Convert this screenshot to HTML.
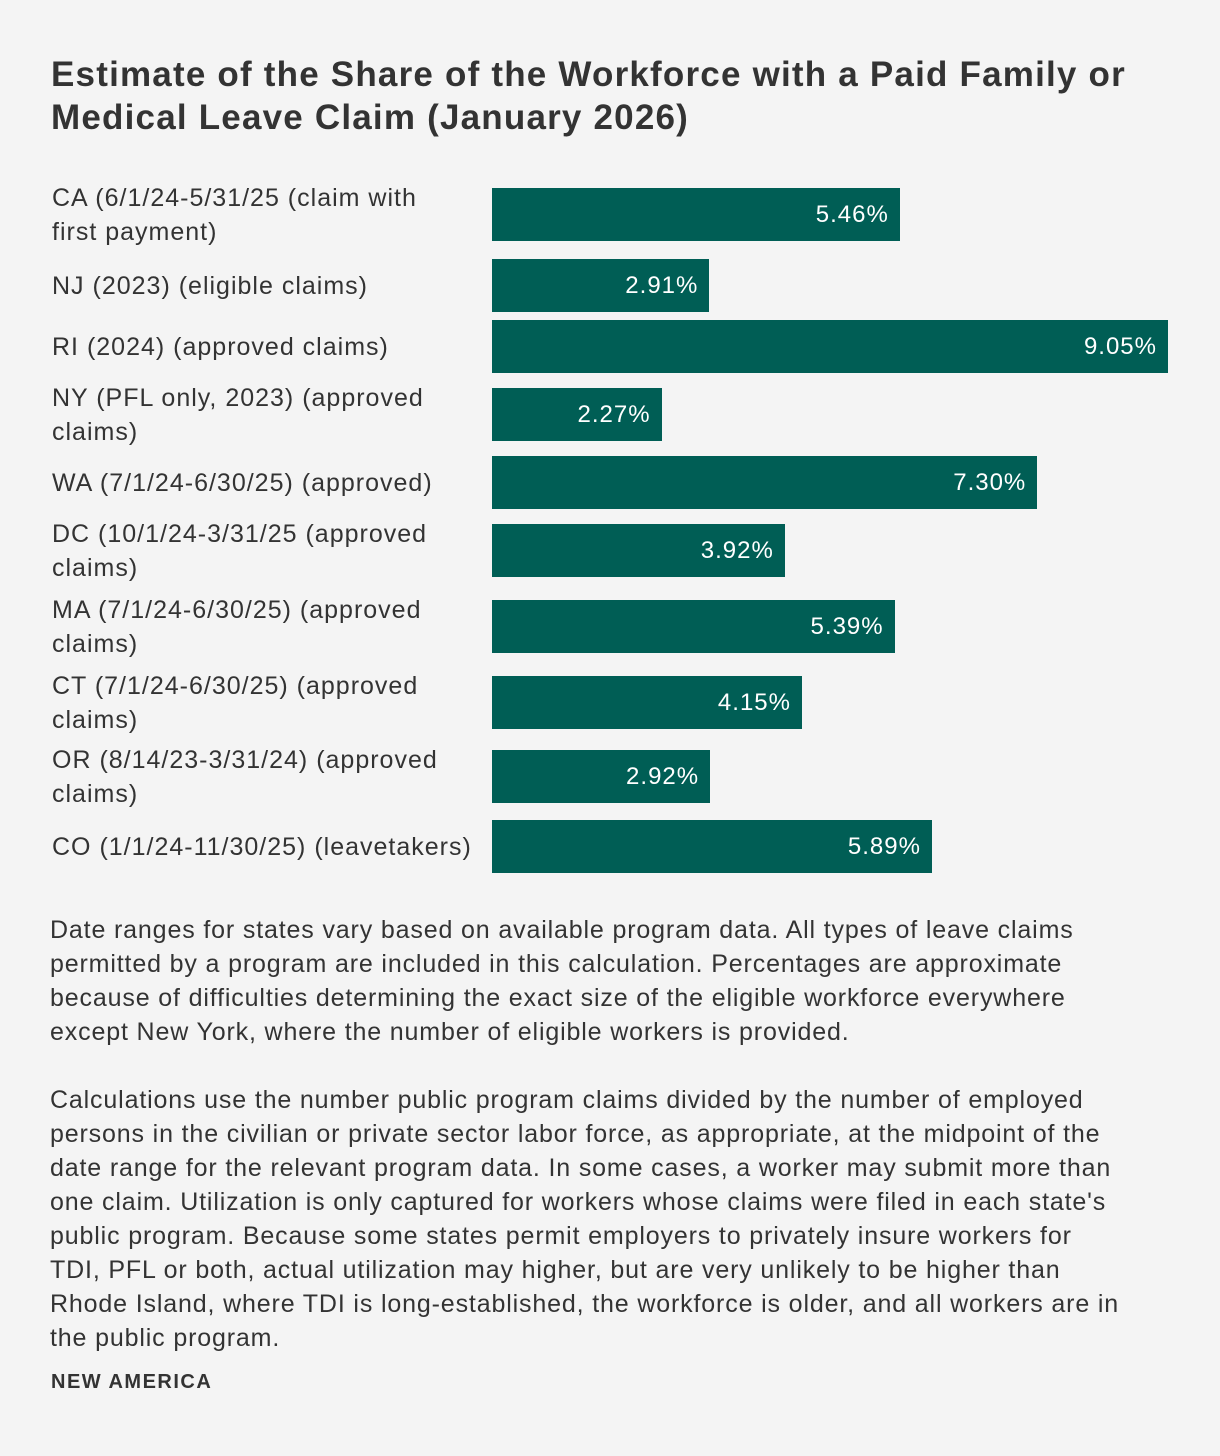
<!DOCTYPE html>
<html><head><meta charset="utf-8"><style>
body{margin:0;background:#f4f4f4;font-family:"Liberation Sans",sans-serif;color:#2b2b2b;}
#root{position:relative;width:1220px;height:1456px;overflow:hidden;}
.title{position:absolute;left:51px;top:53px;font-size:35px;letter-spacing:1.2px;font-weight:bold;line-height:43px;color:#333;white-space:nowrap;}
.lbl{position:absolute;left:52px;font-size:25px;letter-spacing:1px;line-height:34px;white-space:nowrap;transform:translateY(-50%);color:#333;}
.bar{position:absolute;left:492px;height:53px;background:#005e55;}
.val{position:absolute;right:11px;top:0;line-height:53px;color:#fff;font-size:24px;letter-spacing:1px;}
.note{position:absolute;left:50px;font-size:25px;letter-spacing:0.85px;line-height:34px;white-space:nowrap;color:#333;}
.brand{position:absolute;left:51px;top:1371px;font-size:20px;letter-spacing:1.5px;font-weight:bold;color:#333;}
</style></head><body>
<div id="root">
<div class="title">Estimate of the Share of the Workforce with a Paid Family or<br>Medical Leave Claim (January 2026)</div>
<div id="plot"></div>
<div class="note" style="top:913px">Date ranges for states vary based on available program data. All types of leave claims<br>permitted by a program are included in this calculation. Percentages are approximate<br>because of difficulties determining the exact size of the eligible workforce everywhere<br>except New York, where the number of eligible workers is provided.</div>
<div class="note" style="top:1083px">Calculations use the number public program claims divided by the number of employed<br>persons in the civilian or private sector labor force, as appropriate, at the midpoint of the<br>date range for the relevant program data. In some cases, a worker may submit more than<br>one claim. Utilization is only captured for workers whose claims were filed in each state's<br>public program. Because some states permit employers to privately insure workers for<br>TDI, PFL or both, actual utilization may higher, but are very unlikely to be higher than<br>Rhode Island, where TDI is long-established, the workforce is older, and all workers are in<br>the public program.</div>
<div class="brand">NEW AMERICA</div>
</div>
<script>
const categories=["CA (6/1/24-5/31/25 (claim with|first payment)","NJ (2023) (eligible claims)","RI (2024) (approved claims)","NY (PFL only, 2023) (approved|claims)","WA (7/1/24-6/30/25) (approved)","DC (10/1/24-3/31/25 (approved|claims)","MA (7/1/24-6/30/25) (approved|claims)","CT (7/1/24-6/30/25) (approved|claims)","OR (8/14/23-3/31/24) (approved|claims)","CO (1/1/24-11/30/25) (leavetakers)"];
const values=[5.46,2.91,9.05,2.27,7.30,3.92,5.39,4.15,2.92,5.89];
const valueLabels=["5.46%","2.91%","9.05%","2.27%","7.30%","3.92%","5.39%","4.15%","2.92%","5.89%"];
const rowTops=[188,259,320,388,456,524,600,676,750,820];
const xMax=9.05, plotW=676;
function x(v){return v/xMax*plotW;}
const plot=document.getElementById('plot');
categories.forEach((c,i)=>{
  const l=document.createElement('div');
  l.className='lbl';
  
  
  l.style.top=(rowTops[i]+26.5)+'px';
  l.innerHTML=c.split('|').join('<br>');
  plot.appendChild(l);
  const b=document.createElement('div');
  b.className='bar';
  
  
  b.style.top=rowTops[i]+'px';
  b.style.width=x(values[i])+'px';
  const t=document.createElement('div');
  t.className='val';
  
  
  t.textContent=valueLabels[i];
  b.appendChild(t);
  plot.appendChild(b);
});
</script>
</body></html>
